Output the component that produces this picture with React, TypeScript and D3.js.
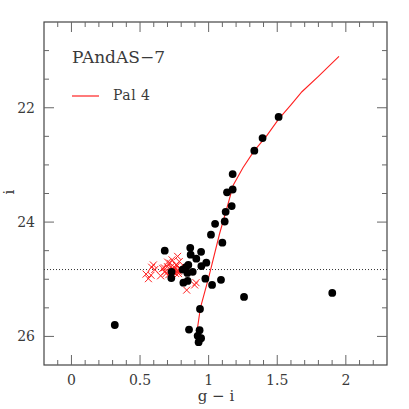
import React from 'react';
import * as d3 from 'd3';

// Pal 4 isochrone (g - i, i)
const isoColor = [0.91, 0.94, 1.0, 1.08, 1.13, 1.18, 1.25, 1.33, 1.42, 1.51, 1.6, 1.68, 1.8, 1.95];
const isoMag = [26.0, 25.5, 24.97, 24.2, 23.78, 23.35, 23.05, 22.76, 22.5, 22.2, 21.95, 21.72, 21.45, 21.1];

// PAndAS-7 stars (black dots)
const starColor = [
  1.51, 1.393, 1.333, 1.175, 1.134, 1.175, 1.168, 1.124, 1.117, 1.047, 1.017, 1.1,
  0.866, 0.68, 0.945, 0.869, 0.91, 0.983, 0.852, 0.947, 0.835, 0.81, 0.73, 0.884,
  0.845, 0.728, 0.976, 1.09, 0.847, 0.816, 1.025, 1.258, 1.901, 0.937, 0.316, 0.857,
  0.934, 0.92, 0.945, 0.927,
];
const starMag = [
  22.16, 22.53, 22.75, 23.16, 23.48, 23.43, 23.72, 23.82, 23.99, 24.03, 24.22, 24.36,
  24.45, 24.5, 24.52, 24.57, 24.64, 24.71, 24.75, 24.77, 24.79, 24.83, 24.87, 24.87,
  24.89, 24.98, 24.99, 25.01, 25.03, 25.06, 25.1, 25.31, 25.24, 25.52, 25.8, 25.88,
  25.89, 25.99, 26.03, 26.1,
];

// Pal 4 horizontal branch stars (red crosses)
const hbColor = [
  0.544, 0.561, 0.58, 0.597, 0.607, 0.65, 0.665, 0.68, 0.7, 0.718, 0.733, 0.75,
  0.774, 0.786, 0.762, 0.738, 0.8, 0.78, 0.908, 0.898, 0.84, 0.71, 0.69, 0.745,
  0.726, 0.677, 0.585, 0.77, 0.701, 0.755, 0.77, 0.79, 0.76, 0.735, 0.78,
];
const hbMag = [
  24.91, 24.99, 24.93, 24.75, 24.83, 24.94, 24.81, 24.87, 24.78, 24.72, 24.66, 24.84,
  24.6, 24.69, 24.75, 24.87, 24.84, 24.9, 25.06, 25.1, 25.19, 24.92, 24.9, 24.87,
  24.78, 24.8, 24.79, 24.85, 24.7, 24.8, 24.76, 24.8, 24.9, 24.82, 24.86,
];

const xTicks = [0, 0.5, 1, 1.5, 2];
const xTickLabels = ['0', '0.5', '1', '1.5', '2'];
const yTicks = [22, 24, 26];
const yTickLabels = ['22', '24', '26'];
const hbLevel = [24.83];

const W = 409;
const H = 409;
const L = 44, R = 387, T = 22, B = 365;
const FONT = 'DejaVu Serif';
const TEXT = '#3a3a3a';
const AX = '#444';

export default function App() {
  const x = d3.scaleLinear().domain([-0.2, 2.3]).range([L, R]);
  const y = d3.scaleLinear().domain([20.5, 26.5]).range([T, B]);

  const xMinor = d3.range(-1, 23).map((k) => k / 10).filter((v) => !xTicks.some((t) => Math.abs(t - v) < 1e-6));
  const yMinor = d3.range(42, 53).map((k) => k / 2).filter((v) => !yTicks.includes(v));

  const line = d3.line<number>().x((_, i) => x(isoColor[i])).y((_, i) => y(isoMag[i]));
  const isoPath = line(isoColor) || '';

  const MAJ = 10, MIN = 5;
  const cs = 3.5;

  return (
    <svg width={W} height={H} style={{ position: 'fixed', left: 0, top: 0, background: '#fff' }}>
      <rect x={0} y={0} width={W} height={H} fill="#fff" />
      {/* dotted line */}
      {hbLevel.map((v, i) => (
        <line key={'hb' + i} x1={L} x2={R} y1={y(v)} y2={y(v)} stroke="#333" strokeWidth={1} strokeDasharray="1,2" />
      ))}
      {/* isochrone */}
      <path d={isoPath} fill="none" stroke="#ff2020" strokeWidth={1.1} />
      {/* crosses */}
      {hbColor.map((c, i) => {
        const cx = x(c), cy = y(hbMag[i]);
        return (
          <g key={'x' + i} stroke="#ff2020" strokeWidth={1}>
            <line x1={cx - cs} y1={cy - cs} x2={cx + cs} y2={cy + cs} />
            <line x1={cx - cs} y1={cy + cs} x2={cx + cs} y2={cy - cs} />
          </g>
        );
      })}
      {/* stars */}
      {starColor.map((c, i) => (
        <circle key={'s' + i} cx={x(c)} cy={y(starMag[i])} r={3.9} fill="#000" />
      ))}
      {/* frame */}
      <rect x={L} y={T} width={R - L} height={B - T} fill="none" stroke={AX} strokeWidth={1.2} />
      {/* ticks */}
      <g stroke="#666" strokeWidth={1}>
        {xTicks.map((t) => (
          <g key={'xt' + t}>
            <line x1={x(t)} x2={x(t)} y1={B} y2={B - MAJ} />
            <line x1={x(t)} x2={x(t)} y1={T} y2={T + MAJ} />
          </g>
        ))}
        {xMinor.map((t) => (
          <g key={'xm' + t}>
            <line x1={x(t)} x2={x(t)} y1={B} y2={B - MIN} />
            <line x1={x(t)} x2={x(t)} y1={T} y2={T + MIN} />
          </g>
        ))}
        {yTicks.map((t) => (
          <g key={'yt' + t}>
            <line x1={L} x2={L + MAJ} y1={y(t)} y2={y(t)} />
            <line x1={R} x2={R - MAJ} y1={y(t)} y2={y(t)} />
          </g>
        ))}
        {yMinor.map((t) => (
          <g key={'ym' + t}>
            <line x1={L} x2={L + MIN} y1={y(t)} y2={y(t)} />
            <line x1={R} x2={R - MIN} y1={y(t)} y2={y(t)} />
          </g>
        ))}
      </g>
      {/* tick labels */}
      <g fontFamily={FONT} fontSize={14} fill={TEXT}>
        {xTicks.map((t, i) => (
          <text key={'xl' + t} x={x(t)} y={385} textAnchor="middle">{xTickLabels[i]}</text>
        ))}
        {yTicks.map((t, i) => (
          <text key={'yl' + t} x={35} y={y(t) + 5} textAnchor="end">{yTickLabels[i]}</text>
        ))}
      </g>
      {/* axis labels */}
      <text x={216} y={401} textAnchor="middle" fontFamily={FONT} fontSize={15} fill={TEXT}>g − i</text>
      <text transform={`translate(14,192) rotate(-90)`} textAnchor="middle" fontFamily={FONT} fontSize={15} fill={TEXT}>i</text>
      {/* title & legend */}
      <text x={72} y={63} fontFamily={FONT} fontSize={17} fill={TEXT}>PAndAS−7</text>
      <line x1={72} x2={99} y1={96} y2={96} stroke="#ff2020" strokeWidth={1.2} />
      <text x={113} y={100} fontFamily={FONT} fontSize={14} fill={TEXT} letterSpacing={0.5}>Pal 4</text>
    </svg>
  );
}
